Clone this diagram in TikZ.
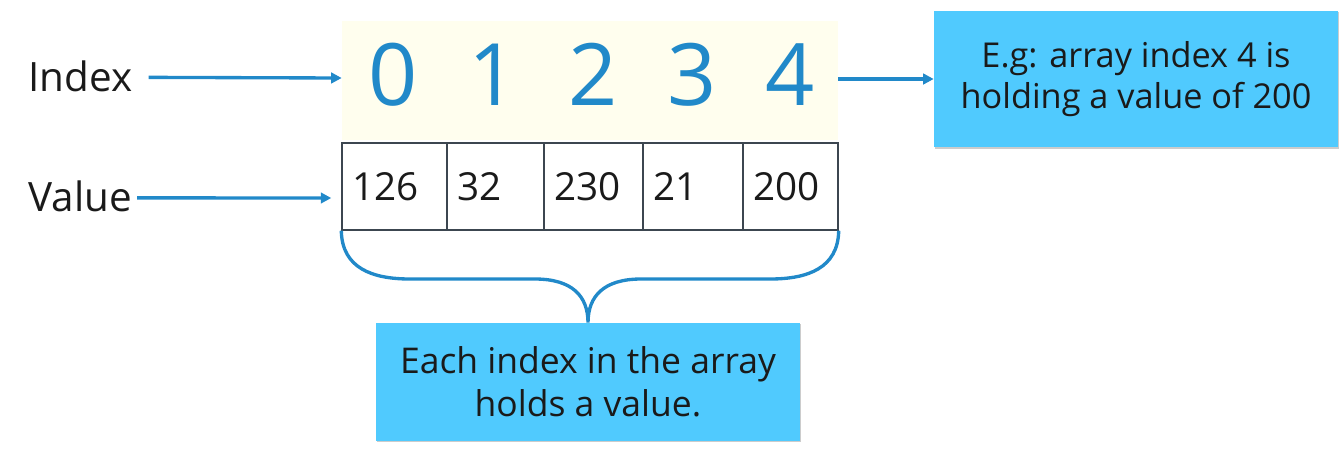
\documentclass[tikz,border=0pt]{standalone}
\usepackage{fontspec}
\setmainfont{Open Sans}
\usepackage{xcolor}
\usepackage{tikz}
\usetikzlibrary{calc, positioning, arrows.meta, shadows}

\definecolor{idxblue}{RGB}{33,137,201}
\definecolor{idxback}{RGB}{255,254,238}
\definecolor{notefill}{RGB}{80,202,254}
\definecolor{cellline}{RGB}{60,70,80}
\definecolor{ink}{RGB}{26,26,26}

\tikzset{
	pointer/.style = {draw = idxblue, line width = 1.9pt, -{Triangle[length = 6pt, width = 6pt]}},
	sidename/.style = {text = ink, inner sep = 0pt, font = \fontsize{23}{26}\selectfont},
	digit/.style = {text = idxblue, inner sep = 0pt, font = \fontsize{49}{52}\selectfont},
	cell/.style = {draw = cellline, line width = 0.8pt, inner sep = 0pt, minimum height = 1.74cm},
	valnum/.style = {text = ink, inner sep = 0pt, font = \fontsize{22}{24}\selectfont},
	note/.style = {fill = notefill, text = ink, align = center, inner sep = 0pt,
		drop shadow = {shadow xshift = 0.8pt, shadow yshift = -0.8pt, fill = black, opacity = 0.2}},
	brace/.style = {draw = idxblue, line width = 1.9pt}
}

\begin{document}
\begin{tikzpicture}[x = 0.02cm, y = -0.02cm]
			\useasboundingbox (0,0) rectangle (1344,451);
			
			\node [fill = idxback, inner sep = 0pt, minimum width = 9.92cm, minimum height = 2.38cm] (idxrow) at (590,80.5) {};
			\foreach \i/\x in {0/393, 1/493, 2/593, 3/692, 4/790}
				\node [digit, anchor = base] (idx\i) at (\x,105) {\i};
			
			\foreach \i/\xl/\xr/\v in {0/342/447/126, 1/447/544/32, 2/544/643/230, 3/643/743/21, 4/743/838/200} {
				\node [cell, minimum width = {(\xr-\xl)*0.02cm}] (cell\i) at ({(\xl+\xr)/2},186.5) {};
				\node [valnum, anchor = base west] (val\i) at ($ (cell\i.west) + (11,13.5) $) {\v};
			}
			
			\node [sidename, anchor = base west] (idxname) at (28,91) {Index};
			\node [sidename, anchor = base west] (valname) at (28,211) {Value};
			
			\node [note, font = \fontsize{19.5}{23}\selectfont, minimum width = 8.08cm, minimum height = 2.74cm] (note1) at (1136,79) {E.g: array index 4 is\\holding a value of 200};
			\node [note, font = \fontsize{20.2}{24.5}\selectfont, minimum width = 8.48cm, minimum height = 2.36cm] (note2) at (588,382) {Each index in the array\\holds a value.};
			
			\draw [pointer] ($ (idxname.east) + (16,1.5) $) -- (idxrow.west |- 0,78);
			\draw [pointer] ($ (valname.east) + (5,2) $) -- ($ (cell0.west |- 0,198) + (-10,0) $);
			\draw [pointer] (idxrow.east |- note1.west) -- (note1.west);
			
			\draw [brace] (cell0.south west)
				.. controls (342,268) and (372,279) .. (410,279) -- (535,279)
				.. controls (572,279) and (588,296) .. (note2.north)
				.. controls (588,296) and (604,279) .. (641,279) -- (770,279)
				.. controls (808,279) and (838,268) .. (cell4.south east);
		\end{tikzpicture}
\end{document}
